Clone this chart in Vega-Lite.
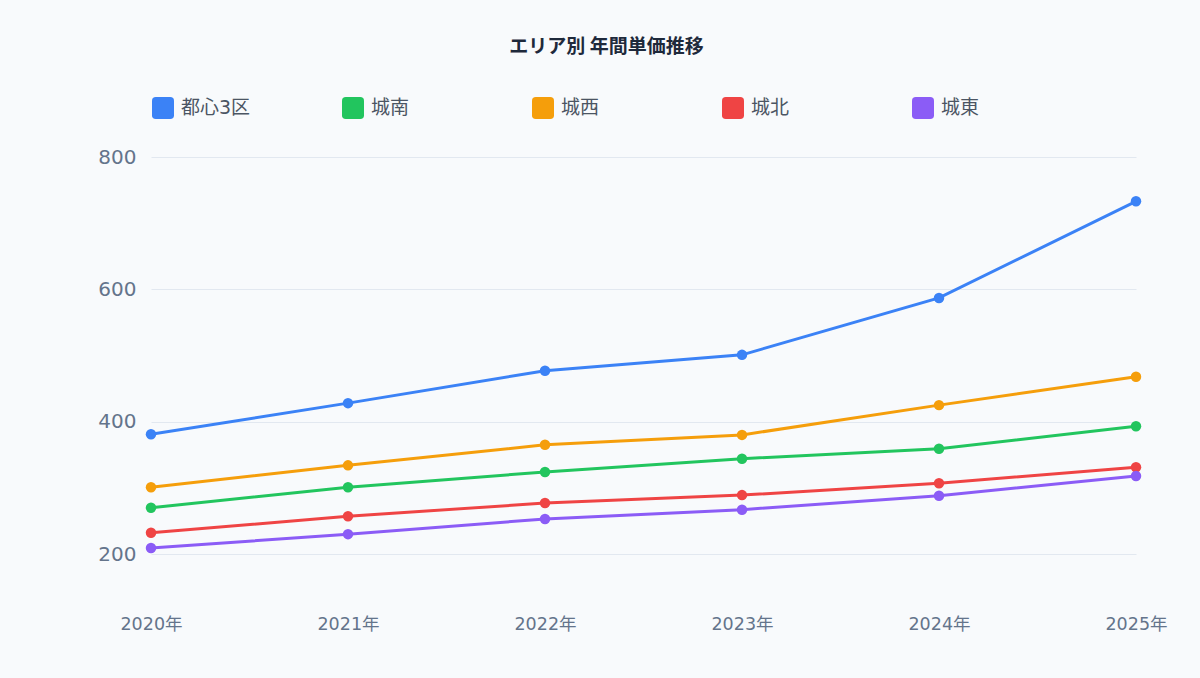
{
  "$schema": "https://vega.github.io/schema/vega-lite/v6.json",
  "autosize": {"type": "none"},
  "padding": {"left": 151, "top": 157, "right": 64, "bottom": 124},
  "width": 985,
  "height": 397,
  "background": "#f8fafc",
  "title": {
    "text": "エリア別 年間単価推移",
    "anchor": "middle",
    "frame": "group",
    "dx": -37,
    "offset": 40,
    "font": "Noto Sans CJK JP",
    "fontSize": 19,
    "fontWeight": "bold",
    "color": "#1e293b"
  },
  "config": {
    "view": {"stroke": null},
    "font": "DejaVu Sans, Noto Sans CJK JP"
  },
  "data": {
    "values": [
      {"year": "2020年", "area": "都心3区", "value": 381},
      {"year": "2021年", "area": "都心3区", "value": 428},
      {"year": "2022年", "area": "都心3区", "value": 477},
      {"year": "2023年", "area": "都心3区", "value": 501},
      {"year": "2024年", "area": "都心3区", "value": 587},
      {"year": "2025年", "area": "都心3区", "value": 733},
      {"year": "2020年", "area": "城南", "value": 270},
      {"year": "2021年", "area": "城南", "value": 301},
      {"year": "2022年", "area": "城南", "value": 324},
      {"year": "2023年", "area": "城南", "value": 344},
      {"year": "2024年", "area": "城南", "value": 359},
      {"year": "2025年", "area": "城南", "value": 393},
      {"year": "2020年", "area": "城西", "value": 301},
      {"year": "2021年", "area": "城西", "value": 334},
      {"year": "2022年", "area": "城西", "value": 365},
      {"year": "2023年", "area": "城西", "value": 380},
      {"year": "2024年", "area": "城西", "value": 425},
      {"year": "2025年", "area": "城西", "value": 468},
      {"year": "2020年", "area": "城北", "value": 232},
      {"year": "2021年", "area": "城北", "value": 257},
      {"year": "2022年", "area": "城北", "value": 277},
      {"year": "2023年", "area": "城北", "value": 289},
      {"year": "2024年", "area": "城北", "value": 307},
      {"year": "2025年", "area": "城北", "value": 331},
      {"year": "2020年", "area": "城東", "value": 209},
      {"year": "2021年", "area": "城東", "value": 230},
      {"year": "2022年", "area": "城東", "value": 253},
      {"year": "2023年", "area": "城東", "value": 267},
      {"year": "2024年", "area": "城東", "value": 288},
      {"year": "2025年", "area": "城東", "value": 318}
    ]
  },
  "encoding": {
    "x": {
      "field": "year",
      "type": "ordinal",
      "scale": {"type": "point", "padding": 0},
      "axis": {
        "title": null,
        "labelAngle": 0,
        "domain": false,
        "ticks": false,
        "grid": false,
        "labelPadding": 61,
        "labelFontSize": 17.5,
        "labelColor": "#64748b"
      }
    },
    "y": {
      "field": "value",
      "type": "quantitative",
      "scale": {"domain": [200, 800], "nice": false, "zero": false},
      "axis": {
        "title": null,
        "values": [200, 400, 600, 800],
        "domain": false,
        "ticks": false,
        "gridColor": "#e2e8f0",
        "gridWidth": 1.2,
        "labelPadding": 15,
        "labelFontSize": 20,
        "labelColor": "#64748b"
      }
    },
    "color": {
      "field": "area",
      "type": "nominal",
      "sort": ["都心3区", "城南", "城西", "城北", "城東"],
      "scale": {
        "domain": ["都心3区", "城南", "城西", "城北", "城東"],
        "range": ["#3b82f6", "#22c55e", "#f59e0b", "#ef4444", "#8b5cf6"]
      },
      "legend": {
        "title": null,
        "orient": "none",
        "direction": "horizontal",
        "columns": 5,
        "gridAlign": "all",
        "legendX": 1,
        "legendY": -60,
        "symbolType": "M-0.66,-1 H0.66 Q1,-1 1,-0.66 V0.66 Q1,1 0.66,1 H-0.66 Q-1,1 -1,0.66 V-0.66 Q-1,-1 -0.66,-1 Z",
        "symbolSize": 484,
        "symbolStrokeWidth": 0,
        "symbolOpacity": 1,
        "labelFontSize": 19,
        "labelColor": "#4b5563",
        "labelOffset": 7,
        "columnPadding": 91
      }
    }
  },
  "layer": [
    {"mark": {"type": "line", "strokeWidth": 3}},
    {"mark": {"type": "point", "filled": true, "size": 110, "opacity": 1}}
  ]
}
